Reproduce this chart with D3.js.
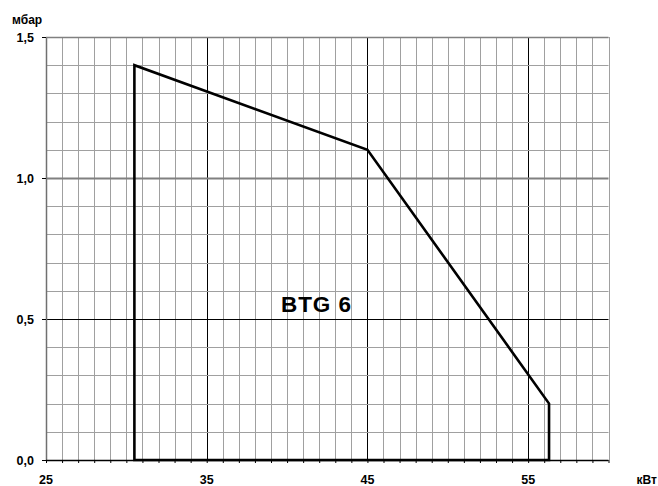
<!DOCTYPE html>
<html><head><meta charset="utf-8">
<script src="https://cdn.jsdelivr.net/npm/d3@7"></script>
<style>body{margin:0;background:#fff}svg{display:block}text{font-family:"Liberation Sans",Arial,sans-serif;font-weight:bold;fill:#000}</style>
</head><body>
<svg id="c" width="658" height="486"></svg>
<script>
const xDomain = [25, 60];
const yDomain = [0, 1.5];
const xTickLabels = [25, 35, 45, 55];
const yTickLabels = [0, 0.5, 1.0, 1.5];
const areaX = [30.5, 30.5, 45, 56.3, 56.3];
const areaY = [0, 1.4, 1.1, 0.2, 0];
const yUnit = "мбар";
const xUnit = "кВт";
const modelLabel = "BTG 6";

const svg = d3.select("#c");
const x = d3.scaleLinear().domain(xDomain).range([46, 608.5]);
const y = d3.scaleLinear().domain(yDomain).range([460, 37]);

const g = svg.append("g");
const xMinor = d3.range(xDomain[0], xDomain[1] + 0.001, 1);
const yMinor = d3.range(0, 16).map(i => i / 10);

g.selectAll(".vx").data(xMinor).join("line")
  .attr("x1", d => Math.round(x(d)) + 0.5).attr("x2", d => Math.round(x(d)) + 0.5)
  .attr("y1", y(1.5)).attr("y2", y(0))
  .attr("stroke", d => (d - 25) % 10 === 0 && d !== 25 ? "#000" : "#a0a0a0")
  .attr("stroke-width", 1);
g.selectAll(".hy").data(yMinor).join("line")
  .attr("y1", d => Math.round(y(d)) + 0.5).attr("y2", d => Math.round(y(d)) + 0.5)
  .attr("x1", x(25)).attr("x2", x(60))
  .attr("stroke", d => Math.abs(d - 0.5) < 1e-6 ? "#000" : (Math.abs(d - 1.0) < 1e-6 ? "#808080" : "#a0a0a0"))
  .attr("stroke-width", d => Math.abs(d - 1.0) < 1e-6 ? 2 : 1);

g.append("line").attr("x1", x(25) + 0.5).attr("x2", x(25) + 0.5).attr("y1", y(1.5)).attr("y2", y(0)).attr("stroke", "#707070").attr("stroke-width", 1.5);
g.append("line").attr("x1", x(25)).attr("x2", x(60)).attr("y1", y(1.5) + 0.5).attr("y2", y(1.5) + 0.5).attr("stroke", "#808080").attr("stroke-width", 1.5);

const xAxis = d3.axisBottom(x).tickValues(xMinor).tickSize(3).tickFormat("");
const xa = svg.append("g").attr("transform", `translate(0,${y(0)})`).call(xAxis);
xa.select(".domain").attr("stroke", "#000").attr("stroke-width", 1.5).attr("d", `M${x(25)},0.5H${x(60)}`);
xa.selectAll(".tick line").attr("stroke", "#000");

const yAxis = d3.axisLeft(y).tickValues(yTickLabels).tickSize(4).tickFormat("");
const ya = svg.append("g").attr("transform", `translate(${x(25)},0)`).call(yAxis);
ya.select(".domain").remove();
ya.selectAll(".tick line").attr("stroke", "#000");

svg.selectAll(".xl").data(xTickLabels).join("text")
  .attr("x", d => x(d)).attr("y", 484).attr("text-anchor", "middle")
  .attr("font-size", 12.5).text(d => d);
svg.selectAll(".yl").data(yTickLabels).join("text")
  .attr("x", 34).attr("y", d => y(d) + 4.5).attr("text-anchor", "end")
  .attr("font-size", 12.5).text(d => d.toFixed(1).replace(".", ","));

svg.append("text").attr("x", 12).attr("y", 24).attr("font-size", 12).text(yUnit);
svg.append("text").attr("x", 657).attr("y", 484).attr("text-anchor", "end").attr("font-size", 12).text(xUnit);

const pts = areaX.map((d, i) => [x(d), y(areaY[i])]);
svg.append("path").attr("d", d3.line()(pts) + "Z")
  .attr("fill", "none").attr("stroke", "#000").attr("stroke-width", 2.6).attr("stroke-linejoin", "miter");

svg.append("text").attr("x", 281).attr("y", 312).attr("font-size", 22.5)
  .attr("textLength", 70).attr("lengthAdjust", "spacing").text(modelLabel);
</script>
</body></html>
